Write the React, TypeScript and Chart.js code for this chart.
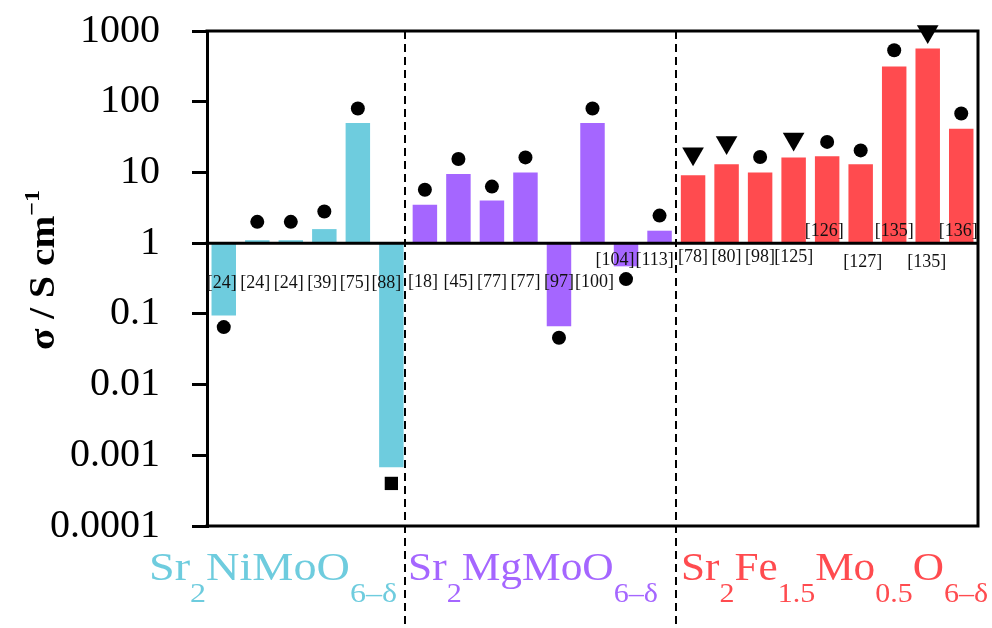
import React, { useEffect, useRef } from 'react';
import { Chart, registerables } from 'chart.js';

Chart.register(...registerables);

// ---------- data ----------
const refLabels = [
  '[24]', '[24]', '[24]', '[39]', '[75]', '[88]',
  '[18]', '[45]', '[77]', '[77]', '[97]', '[100]', '[104]', '[113]',
  '[78]', '[80]', '[98]', '[125]', '[126]', '[127]', '[135]', '[135]', '[136]',
];
const groupIndex = [
  0, 0, 0, 0, 0, 0,
  1, 1, 1, 1, 1, 1, 1, 1,
  2, 2, 2, 2, 2, 2, 2, 2, 2,
];
const barValues = [
  0.095, 1.1, 1.1, 1.58, 50, 0.00068,
  3.5, 9.5, 4.0, 10, 0.067, 50, 0.47, 1.5,
  9.1, 13.1, 10, 16.3, 17, 13.1, 316, 566, 41.6,
];
const markerValues = [
  0.065, 2.0, 2.0, 2.8, 80, 0.0004,
  5.7, 15.5, 6.3, 16.3, 0.046, 80, 0.31, 2.45,
  18.3, 26.6, 16.5, 29.8, 27, 20.5, 533, 980, 68,
];
const markerTypes = [
  'circle', 'circle', 'circle', 'circle', 'circle', 'square',
  'circle', 'circle', 'circle', 'circle', 'circle', 'circle', 'circle', 'circle',
  'triangle', 'triangle', 'circle', 'triangle', 'circle', 'circle', 'circle', 'triangle', 'circle',
];
const groupColors = ['#6ECCDE', '#A566FF', '#FF4B4F'];
const tickValues = [0.0001, 0.001, 0.01, 0.1, 1, 10, 100, 1000];
const tickLabels = ['0.0001', '0.001', '0.01', '0.1', '1', '10', '100', '1000'];

type Seg = { t: string; sub?: boolean; sup?: boolean };
const groupNames: Seg[][] = [
  [{ t: 'Sr' }, { t: '2', sub: true }, { t: 'NiMoO' }, { t: '6–δ', sub: true }],
  [{ t: 'Sr' }, { t: '2', sub: true }, { t: 'MgMoO' }, { t: '6–δ', sub: true }],
  [{ t: 'Sr' }, { t: '2', sub: true }, { t: 'Fe' }, { t: '1.5', sub: true }, { t: 'Mo' }, { t: '0.5', sub: true }, { t: 'O' }, { t: '6–δ', sub: true }],
];
const yTitle: Seg[] = [{ t: 'σ / S cm' }, { t: '−1', sup: true }];

// ---------- layout constants ----------
const labelDy = [
  40, 40, 40, 40, 40, 40,
  39, 39, 39, 39, 39, 39, 17, 17,
  14, 14, 14, 14, -12, 19, -12, 19, -12,
];
const labelDx = [
  -2, -2, -2, -2, -3, -5,
  -2, 0, 0, 0, 0, 2, -11, -5,
  0, 0, 0, 0, -3, 2, 0, -1, -3,
];
const dividerAt = [5.42, 13.5];
const groupLabelBox = [
  [149, 397],
  [408, 658],
  [681, 988],
];
const SERIF = '"Liberation Serif", "DejaVu Serif", serif';

function drawRich(
  ctx: CanvasRenderingContext2D,
  segs: Seg[],
  x0: number,
  x1: number,
  baseline: number,
  color: string,
  mainFont: string,
  smallFont: string,
  subDy: number,
  supDy: number,
) {
  ctx.save();
  ctx.fillStyle = color;
  ctx.textAlign = 'left';
  ctx.textBaseline = 'alphabetic';
  let w = 0;
  for (const s of segs) {
    ctx.font = s.sub || s.sup ? smallFont : mainFont;
    w += ctx.measureText(s.t).width;
  }
  const sx = (x1 - x0) / w;
  ctx.translate(x0, baseline);
  ctx.scale(sx, 1);
  let cx = 0;
  for (const s of segs) {
    ctx.font = s.sub || s.sup ? smallFont : mainFont;
    ctx.fillText(s.t, cx, s.sub ? subDy : s.sup ? supDy : 0);
    cx += ctx.measureText(s.t).width;
  }
  ctx.restore();
}

const decorPlugin = {
  id: 'decor',
  afterDatasetsDraw(chart: any) {
    const ctx: CanvasRenderingContext2D = chart.ctx;
    const xs = chart.scales.x;
    const ys = chart.scales.y;
    const ca = chart.chartArea;
    const y1 = ys.getPixelForValue(1);
    ctx.save();

    // frame + axis line at 1
    ctx.strokeStyle = '#000';
    ctx.lineWidth = 3;
    ctx.lineCap = 'square';
    ctx.beginPath();
    ctx.moveTo(ca.left, ca.top);
    ctx.lineTo(ca.right, ca.top);
    ctx.lineTo(ca.right, ca.bottom);
    ctx.lineTo(ca.left, ca.bottom);
    ctx.moveTo(ca.left, y1);
    ctx.lineTo(ca.right, y1);
    ctx.stroke();

    // dashed dividers
    ctx.lineWidth = 2;
    ctx.lineCap = 'butt';
    ctx.setLineDash([8, 5]);
    for (const d of dividerAt) {
      const x = Math.round(xs.getPixelForValue(d));
      ctx.beginPath();
      ctx.moveTo(x, ca.top);
      ctx.lineTo(x, chart.height);
      ctx.stroke();
    }
    ctx.setLineDash([]);

    // reference labels
    ctx.fillStyle = '#111';
    ctx.font = `18px ${SERIF}`;
    ctx.textAlign = 'center';
    ctx.textBaseline = 'middle';
    refLabels.forEach((lab, i) => {
      const x = xs.getPixelForValue(i) + labelDx[i];
      ctx.fillText(lab, x, y1 + labelDy[i]);
    });

    // group labels
    groupNames.forEach((segs, g) => {
      drawRich(ctx, segs, groupLabelBox[g][0], groupLabelBox[g][1], 580, groupColors[g],
        `39px ${SERIF}`, `27px ${SERIF}`, 22, 0);
    });

    // y title
    ctx.save();
    ctx.translate(42, 270);
    ctx.rotate(-Math.PI / 2);
    drawRich(ctx, yTitle, -80, 80, 12, '#000', `bold 36px ${SERIF}`, `bold 22px ${SERIF}`, 0, -15);
    ctx.restore();

    ctx.restore();
  },
};

export default function App() {
  const ref = useRef<HTMLCanvasElement | null>(null);
  useEffect(() => {
    document.body.style.margin = '0';
    const canvas = ref.current;
    if (!canvas) return;
    const styleMap: Record<string, string> = { circle: 'circle', triangle: 'triangle', square: 'rect' };
    const radiusMap: Record<string, number> = { circle: 7, triangle: 12.5, square: 9.4 };
    const chart = new Chart(canvas, {
      type: 'bar',
      data: {
        labels: refLabels.map((l, i) => `${i}`),
        datasets: [
          {
            type: 'line' as const,
            data: markerValues,
            showLine: false,
            pointStyle: markerTypes.map((m) => styleMap[m]) as any,
            pointRadius: markerTypes.map((m) => radiusMap[m]),
            pointRotation: markerTypes.map((m) => (m === 'triangle' ? 180 : 0)),
            pointBackgroundColor: '#000',
            pointBorderWidth: 0,
            pointBorderColor: '#000',
            clip: false as any,
            order: 0,
          } as any,
          {
            type: 'bar' as const,
            data: barValues.map((v) => [1, v]) as any,
            backgroundColor: groupIndex.map((g) => groupColors[g]),
            borderWidth: 0,
            barPercentage: 0.73,
            categoryPercentage: 1,
            order: 1,
          },
        ],
      },
      options: {
        responsive: false,
        animation: false,
        layout: { padding: { top: 31, right: 14, bottom: 102, left: 0 } },
        plugins: { legend: { display: false }, tooltip: { enabled: false }, title: { display: false } },
        scales: {
          x: { type: 'category', display: false, offset: true },
          y: {
            type: 'logarithmic',
            min: 0.0001,
            max: 1000,
            afterFit: (s: any) => {
              s.width = 207;
              s.paddingTop = 0;
              s.paddingBottom = 0;
            },
            afterBuildTicks: (s: any) => { s.ticks = tickValues.map((v) => ({ value: v })); },
            ticks: {
              callback: (v: any) => {
                const i = tickValues.findIndex((t) => Math.abs(Math.log10(t) - Math.log10(Number(v))) < 1e-6);
                return i >= 0 ? tickLabels[i] : '';
              },
              font: { family: SERIF, size: 40 },
              color: '#000',
              padding: 32,
              autoSkip: false,
            },
            grid: { drawOnChartArea: false, drawTicks: true, tickLength: 15, color: '#000', lineWidth: 3 },
            border: { display: true, color: '#000', width: 3 },
          },
        },
      },
      plugins: [decorPlugin],
    } as any);
    return () => chart.destroy();
  }, []);
  return <canvas ref={ref} width={992} height={628} style={{ display: 'block', width: 992, height: 628 }} />;
}
